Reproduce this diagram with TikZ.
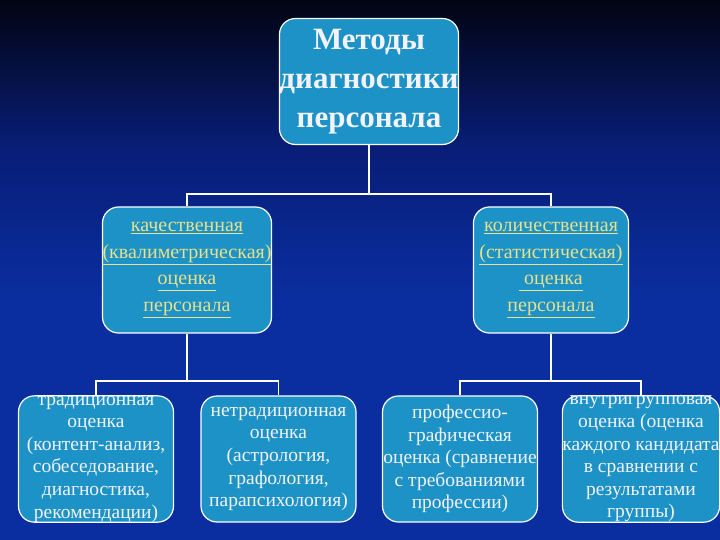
\documentclass[tikz,border=0pt]{standalone}
\usepackage{fontspec}
\setmainfont{Liberation Serif}
\definecolor{bgtop}{RGB}{2,4,18}
\definecolor{bgmid}{RGB}{8,30,120}
\definecolor{bgbot}{RGB}{10,46,160}
\definecolor{boxfill}{RGB}{28,146,198}
\definecolor{ytext}{RGB}{232,224,140}
\definecolor{wtext}{RGB}{242,242,248}
\tikzset{
  box/.style={draw=white, line width=1.2pt, fill=boxfill, rounded corners=16pt,
    minimum width=155pt, minimum height=126pt, inner sep=0pt, align=center},
  topbox/.style={box, text=wtext, font=\fontsize{31}{39}\selectfont\bfseries},
  midbox/.style={box, text=ytext, font=\fontsize{20}{26.5}\selectfont},
  lowbox/.style={box, text=wtext, font=\fontsize{19.5}{22.6}\selectfont},
  conn/.style={draw=white, line width=1.8pt}
}
\newcommand{\ul}[1]{\underline{#1}}
\begin{document}
\begin{tikzpicture}[x=1pt,y=-1pt]
\useasboundingbox (0,0) rectangle (720,540);
\shade[top color=bgtop, bottom color=bgmid] (0,0) rectangle (720,150);
\shade[top color=bgmid, bottom color=bgbot] (0,149.5) rectangle (720,300);
\fill[bgbot] (0,299.5) rectangle (720,540);

\node[topbox] (top) at (369,81.5) {Методы\\диагностики\\персонала};

\node[midbox] (ml) at (187,270) {\ul{качественная}\\\ul{(квалиметрическая)}\\\ul{оценка}\\\ul{персонала}};
\node[midbox] (mr) at (551,270) {\ul{количественная}\\\ul{(статистическая)}\\\ul{ оценка}\\\ul{персонала}};

\node[lowbox] (b1) at (96,459) {традиционная\\оценка\\(контент-анализ,\\собеседование,\\диагностика,\\рекомендации)};
\node[lowbox] (b2) at (278.5,459) {нетрадиционная\\оценка\\(астрология,\\графология,\\парапсихология)};
\node[lowbox] (b3) at (460,459) {профессио-\\графическая\\оценка (сравнение\\с требованиями\\профессии)};
\node[lowbox] (b4) at (641,459) {внутригрупповая\\оценка (оценка\\каждого кандидата\\в сравнении с\\результатами\\группы)};

\coordinate (j0) at (369,194);
\coordinate (j1) at (187,381);
\coordinate (j2) at (551,381);

\draw[conn] (top.south) -- (j0);
\draw[conn] (j0) -| (ml.north);
\draw[conn] (j0) -| (mr.north);
\draw[conn] (ml.south) -- (j1);
\draw[conn] (j1) -| (b1.north);
\draw[conn] (j1) -| (b2.north);
\draw[conn] (mr.south) -- (j2);
\draw[conn] (j2) -| (b3.north);
\draw[conn] (j2) -| (b4.north);
\end{tikzpicture}
\end{document}
